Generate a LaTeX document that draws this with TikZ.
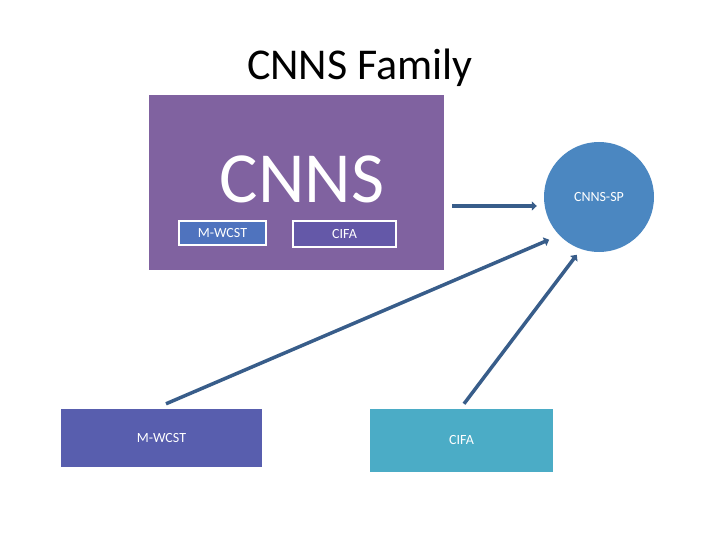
\documentclass[tikz,border=0pt]{standalone}
\usepackage{fontspec}
\setmainfont{Carlito}
\usetikzlibrary{arrows.meta}
\definecolor{famviolet}{HTML}{8062A0}
\definecolor{famblue}{HTML}{4F73BE}
\definecolor{famindigo}{HTML}{6458A8}
\definecolor{famsky}{HTML}{4B87C1}
\definecolor{famline}{HTML}{385D8A}
\definecolor{famslate}{HTML}{585EAE}
\definecolor{famteal}{HTML}{4BACC6}
\begin{document}
\begin{tikzpicture}[x=1pt,y=-1pt,bx/.style={rectangle,inner sep=0pt,text=white,font=\fontsize{14}{17}\selectfont},sub/.style={bx,draw=white,line width=1.5pt},conn/.style={draw=famline,line width=3.5pt,-{Triangle[length=5pt,width=9pt]}}]
\useasboundingbox[fill=white] (0,0) rectangle (720,540);
\node (title) at (360,68) {\fontsize{44}{53}\selectfont CNNS Family};

\node[bx,fill=famviolet,minimum width=295pt,minimum height=175pt] (cnns) at (296.5,182.5) {};
\node[text=white,inner sep=0pt,font=\fontsize{72}{86}\selectfont] (cnnstxt) at (302,179) {CNNS};
\node[sub,fill=famblue,minimum width=87pt,minimum height=24pt] (subw) at (222.5,233) {M-WCST};
\node[sub,fill=famindigo,minimum width=103pt,minimum height=26pt] (subc) at (344.5,234) {CIFA};

\node[bx,circle,fill=famsky,minimum size=110pt] (sp) at (599,197) {CNNS-SP};

\node[bx,fill=famslate,minimum width=201pt,minimum height=58pt] (mw) at (161.5,438) {M-WCST};
\node[bx,fill=famteal,minimum width=183pt,minimum height=63pt] (cf) at (461.5,440.5) {CIFA};

\draw[conn,shorten <=8pt,shorten >=7pt] ([yshift=-23.5pt]cnns.east) -- ([yshift=-23.5pt]cnns.east -| sp.west);
\draw[conn,shorten >=11pt] ([xshift=4.5pt,yshift=5pt]mw.north) -- (sp.224);
\draw[conn,shorten >=7pt] ([xshift=2.5pt,yshift=5pt]cf.north) -- (sp.251);
\end{tikzpicture}
\end{document}
